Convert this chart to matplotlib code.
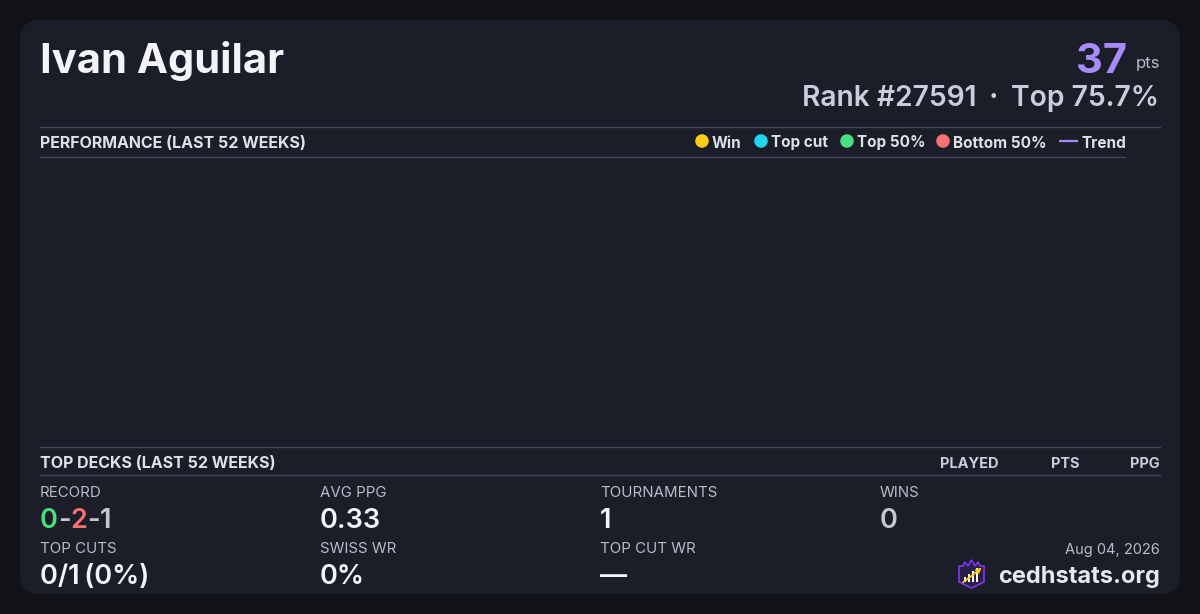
import matplotlib
matplotlib.use("Agg")
import matplotlib.pyplot as plt
from matplotlib.patches import FancyBboxPatch, Polygon, Rectangle, FancyArrowPatch

# Données du profil
player_name = "Ivan Aguilar"
points = 37
rank = 27591
top_pct = 75.7

# Performance (52 dernières semaines) : aucune donnée
perf_weeks = []
perf_points = []
trend_points = []

legend_labels = ["Win", "Top cut", "Top 50%", "Bottom 50%", "Trend"]
legend_colors = ["#facc15", "#22d3ee", "#4ade80", "#f87171", "#a78bfa"]

deck_columns = ["PLAYED", "PTS", "PPG"]

record_wins, record_losses, record_draws = 0, 2, 1
stat_labels = ["AVG PPG", "TOURNAMENTS", "WINS", "TOP CUTS", "SWISS WR", "TOP CUT WR"]
stat_values = ["0.33", "1", "0", "0/1\u2009(0%)", "0%", "\u2014"]
date_label = "Aug 04, 2026"
site_label = "cedhstats.org"

plt.rcParams['font.family'] = ['Inter', 'DejaVu Sans']

BG = "#111217"
CARD = "#1b1d28"
LINE = "#3d475c"
LABEL = "#b8bdc9"
WHITE = "#f3f4f7"

fig = plt.figure(figsize=(12, 6.14), dpi=100, facecolor=BG)
ax = fig.add_axes([0, 0, 1, 1])
ax.set_xlim(0, 1200)
ax.set_ylim(614, 0)
ax.axis('off')

# Carte
ax.add_patch(FancyBboxPatch((20, 20), 1160, 574, boxstyle="round,pad=0,rounding_size=20",
                            facecolor=CARD, edgecolor='none'))

# En-tête
ax.text(40, 73, player_name, fontsize=30, fontweight='bold', color=WHITE, va='baseline')
ax.text(1160, 68, "pts", fontsize=12, color=LABEL, ha='right', va='baseline')
ax.text(1127, 73, str(points), fontsize=30, fontweight='bold', color="#a78bfa", ha='right', va='baseline')
ax.text(976, 106, f"Rank #{rank}", fontsize=20.3, fontweight=600,
        color="#c9cedb", ha='right', va='baseline')
ax.text(993, 106, "\u00b7", fontsize=20.3, fontweight='bold',
        color="#c9cedb", ha='center', va='baseline')
ax.text(1159, 106, f"Top {top_pct}%", fontsize=20.3, fontweight=600,
        color="#c9cedb", ha='right', va='baseline')

# Section performance
ax.plot([40, 1160], [126.5, 126.5], color=LINE, lw=1)
ax.plot([40, 1125], [156.5, 156.5], color=LINE, lw=1)
ax.text(40, 147.5, "PERFORMANCE (LAST 52 WEEKS)", fontsize=11.5, fontweight='bold', color="#dde1ea", va='baseline')

leg_x = [702, 761, 847, 943, 1059]
for x, lab, col in zip(leg_x, legend_labels, legend_colors):
    if lab == "Trend":
        ax.plot([x, x + 19], [141, 141], color=col, lw=1.6, solid_capstyle='butt')
        tx = x + 22
    else:
        ax.scatter([x], [141], s=95, color=col, marker='o', edgecolors='none', zorder=3)
        tx = x + 10
    ax.text(tx, 147.5, lab, fontsize=11, fontweight='bold', color="#dde1ea", va='baseline')

perf_ax = fig.add_axes([40 / 1200, 1 - 446 / 614, 1085 / 1200, 290 / 614])
perf_ax.set_facecolor('none')
perf_ax.plot(perf_weeks, perf_points, 'o')
perf_ax.plot(perf_weeks, trend_points, color="#a78bfa")
perf_ax.axis('off')

# Section top decks
ax.plot([40, 1160], [446.5, 446.5], color=LINE, lw=1)
ax.plot([40, 1160], [474.5, 474.5], color=LINE, lw=1)
ax.text(40, 468, "TOP DECKS (LAST 52 WEEKS)", fontsize=11.5, fontweight='bold', color="#dde1ea", va='baseline')
for x, lab in zip([999, 1079, 1160], deck_columns):
    ax.text(x, 467.5, lab, fontsize=10.5, fontweight='bold', color="#c9cedb", ha='right', va='baseline')

# Statistiques
ax.text(40, 497, "RECORD", fontsize=10.8, color=LABEL, va='baseline')
fig.canvas.draw()
renderer = fig.canvas.get_renderer()
inv = ax.transData.inverted()
x = 40
parts = [(str(record_wins), "#4ade80"), ("-", "#c3c7d2"), (str(record_losses), "#f87171"),
         ("-", "#c3c7d2"), (str(record_draws), "#c3c7d2")]
for s, col in parts:
    t = ax.text(x, 528, s, fontsize=19.5, fontweight=600, color=col, va='baseline')
    bb = t.get_window_extent(renderer)
    x = inv.transform((bb.x1, 0))[0]

pos = [(320, 497), (600, 497), (880, 497), (40, 553), (320, 553), (600, 553)]
for (px, py), lab, val in zip(pos, stat_labels, stat_values):
    ax.text(px, py, lab, fontsize=10.8, color=LABEL, va='baseline')
    col = "#c3c7d2" if lab == "WINS" else WHITE
    ax.text(px, py + 31, val, fontsize=19.5, fontweight=600, color=col, va='baseline',
            family=['Inter', 'DejaVu Sans'])

ax.text(1160, 554, date_label, fontsize=10.5, color=LABEL, ha='right', va='baseline')
ax.text(1160, 583, site_label, fontsize=17, fontweight='bold', color="#e4e7ee", ha='right', va='baseline')

# Logo
shield = Polygon([(959, 566), (963, 566), (965, 562), (968, 566), (971.5, 560), (975, 566),
                  (978, 562), (980, 566), (984, 566), (984, 582), (971.5, 588), (959, 582)],
                 closed=True, facecolor="#2a1f45", edgecolor="#7c3aed", lw=1.2)
ax.add_patch(shield)
for bx, bh in zip([963.5, 967.5, 971.5, 975.5], [5, 8, 11, 14]):
    ax.add_patch(Rectangle((bx, 582 - bh), 2.4, bh, facecolor="white", edgecolor='none'))
ax.add_patch(FancyArrowPatch((961, 584), (984, 566), arrowstyle='-|>', mutation_scale=7,
                             color="#facc15", lw=1.3))

plt.savefig("out.png", dpi=100, facecolor=BG)
